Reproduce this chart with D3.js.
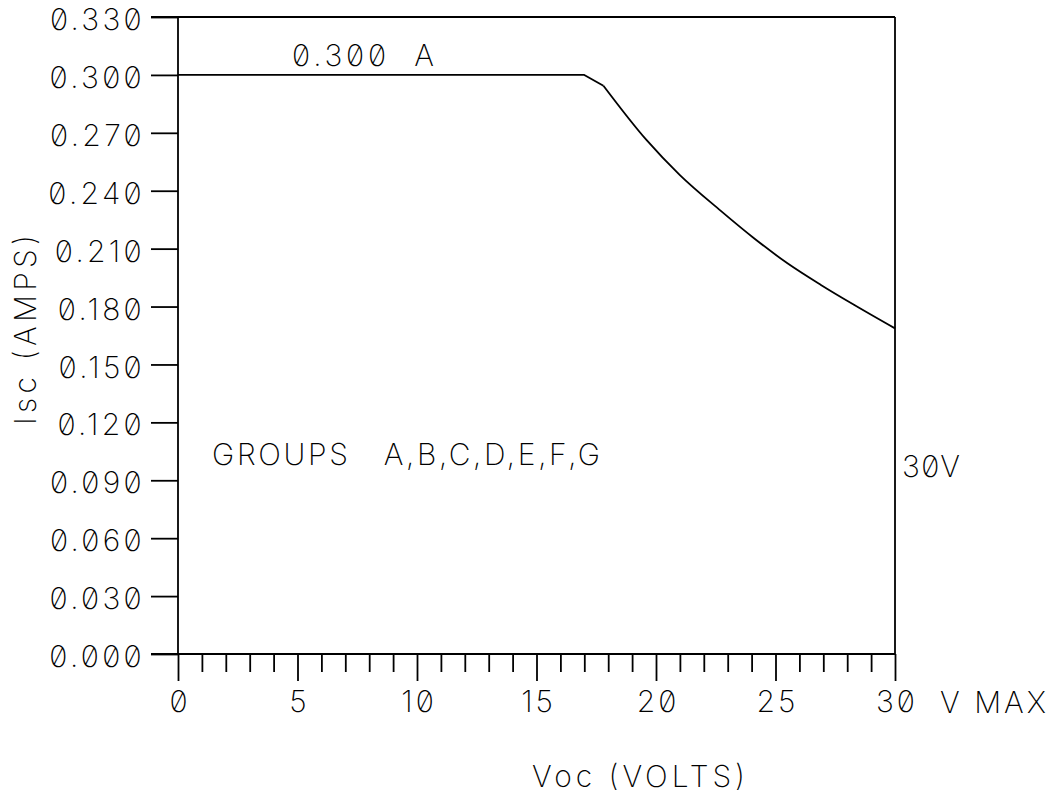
<!DOCTYPE html>
<html>
<head>
<meta charset="utf-8">
<script src="https://cdn.jsdelivr.net/npm/d3@7"></script>
<style>
  html, body { margin: 0; padding: 0; background: #fff; }
  svg text { font-family: Inter, "DejaVu Sans", sans-serif; font-weight: 200;
    font-feature-settings: "zero" 1; font-variant-numeric: slashed-zero; fill: #000; }
</style>
</head>
<body>
<svg id="chart" width="1051" height="794"></svg>
<script>
// ---- data ----
const voltage = [0, 17.0, 17.8, 19.6, 21.0, 22.7, 24.1, 25.5, 26.9, 28.3, 30.0];
const current = [0.3000, 0.3000, 0.2944, 0.2663, 0.2481, 0.2297, 0.2154, 0.2024, 0.1912, 0.1808, 0.1687];
const yTicks = [0, 0.03, 0.06, 0.09, 0.12, 0.15, 0.18, 0.21, 0.24, 0.27, 0.30, 0.33];
const xMajorTicks = [0, 5, 10, 15, 20, 25, 30];
const xMinorTicks = d3.range(1, 30).filter(v => v % 5 !== 0);
const xTitle = "Voc (VOLTS)";
const yTitle = "Isc (AMPS)";
const limitLabel = "0.300  A";
const groupLabel = "GROUPS   A,B,C,D,E,F,G";
const maxLabel = "V MAX";
const rightLabel = "30V";

const svg = d3.select("#chart");
const L = 178, R = 895, T = 17, B = 654;
const x = d3.scaleLinear().domain([0, 30]).range([L, R]);
const y = d3.scaleLinear().domain([0, 0.33]).range([B, T]);
const FS = 30;
const stroke = "#000";
const SW = 1.8;

// Y axis ticks + labels
const yAxis = d3.axisLeft(y).tickValues(yTicks).tickSize(27).tickSizeOuter(0)
  .tickFormat(d3.format(".3f"));
const gy = svg.append("g").attr("transform", `translate(${L},0)`).call(yAxis);
gy.select(".domain").remove();
gy.selectAll(".tick line").attr("stroke", stroke).attr("stroke-width", SW);
gy.selectAll(".tick text").attr("font-size", FS).attr("dy", "0.42em")
  .attr("letter-spacing", 3.3).attr("x", -33);

// X axis: minor ticks
const gxm = svg.append("g").attr("transform", `translate(0,${B})`)
  .call(d3.axisBottom(x).tickValues(xMinorTicks).tickSize(18).tickSizeOuter(0).tickFormat(""));
gxm.select(".domain").remove();
gxm.selectAll(".tick line").attr("stroke", stroke).attr("stroke-width", SW);

// X axis: major ticks + labels
const gx = svg.append("g").attr("transform", `translate(0,${B})`)
  .call(d3.axisBottom(x).tickValues(xMajorTicks).tickSize(27).tickSizeOuter(0).tickPadding(10)
  .tickFormat(d3.format("d")));
gx.select(".domain").remove();
gx.selectAll(".tick line").attr("stroke", stroke).attr("stroke-width", SW);
gx.selectAll(".tick text").attr("font-size", FS).attr("dy", "0.71em")
  .attr("letter-spacing", 3).attr("x", 1.5);

// frame
const frame = svg.append("g").attr("stroke", stroke).attr("stroke-width", SW).attr("fill", "none");
frame.append("line").attr("x1", L - 27).attr("x2", R).attr("y1", y(0.33)).attr("y2", y(0.33));
frame.append("line").attr("x1", L - 27).attr("x2", R).attr("y1", y(0)).attr("y2", y(0));
frame.append("line").attr("x1", x(0)).attr("x2", x(0)).attr("y1", y(0.33)).attr("y2", y(0));
frame.append("line").attr("x1", x(30)).attr("x2", x(30)).attr("y1", y(0.33)).attr("y2", y(0));

// curve: straight flat limit + smooth power-limited part
const pts = voltage.map((v, i) => [v, current[i]]);
const straight = d3.line().x(d => x(d[0])).y(d => y(d[1]));
const smooth = d3.line().x(d => x(d[0])).y(d => y(d[1])).curve(d3.curveMonotoneX);
svg.append("path").datum(pts.slice(0, 3)).attr("d", straight)
  .attr("fill", "none").attr("stroke", stroke).attr("stroke-width", SW).attr("stroke-linejoin", "round");
svg.append("path").datum(pts.slice(2)).attr("d", smooth)
  .attr("fill", "none").attr("stroke", stroke).attr("stroke-width", SW).attr("stroke-linejoin", "round");

// annotations
function label(txt, xx, yy, len) {
  return svg.append("text").attr("x", xx).attr("y", yy).attr("font-size", FS)
    .attr("xml:space", "preserve").style("white-space", "pre")
    .attr("textLength", len).attr("lengthAdjust", "spacing").text(txt);
}
label(maxLabel, 940, 713, 106);
label(rightLabel, 902, 477, 58);
label(limitLabel, 292, 66, 142);
label(groupLabel, 212, 465, 388);
label(xTitle, 532, 787, 213);

// y title (rotated)
svg.append("text").attr("transform", "translate(36,425) rotate(-90)")
  .attr("font-size", FS).attr("textLength", 190).attr("lengthAdjust", "spacing").text(yTitle);
</script>
</body>
</html>
